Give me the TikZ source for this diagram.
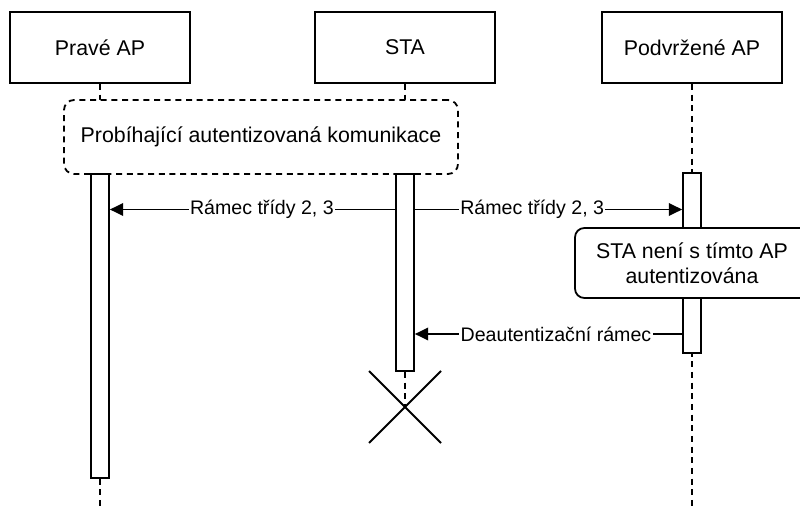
\documentclass[tikz,border=0pt]{standalone}
\usepackage{fontspec}
\setmainfont{Liberation Sans}
\usetikzlibrary{arrows.meta}
\begin{document}
\begin{tikzpicture}[x=0.75pt,y=-0.75pt,
  lw/.style={line width=1.35pt},
  dsh/.style={lw,dash pattern=on 4.5pt off 3.5pt},
  head/.style={draw,lw,fill=white,minimum width=135pt,minimum height=53.25pt,inner sep=0pt,font=\fontsize{16}{19}\selectfont},
  bar/.style={draw,lw,fill=white,minimum width=13.5pt,inner sep=0pt},
  msg/.style={lw,-{Triangle[length=10pt,width=9.5pt]}},
  lbl/.style={fill=white,inner sep=1pt,font=\fontsize{14.7}{17}\selectfont},
  notebox/.style={draw,lw,fill=white,rounded corners=7pt,minimum width=175.5pt,minimum height=52.5pt,align=center,inner sep=0pt,font=\fontsize{16}{19}\selectfont}]
\useasboundingbox (0,0) rectangle (800,506);
\clip (0,0) rectangle (800,506);
\fill[white] (0,0) rectangle (800,506);
% heads
\node[head] (pa) at (100,47.5) {Pravé AP};
\node[head] (sta) at (405,47.5) {STA};
\node[head] (pod) at (692,47.5) {Podvržené AP};
% lifelines
\coordinate (paend) at (100,506);
\coordinate (podend) at (692,506);
\coordinate (xc) at (405,407);
\draw[dsh] (pa.south) -- (paend);
\draw[dsh] (sta.south) -- (xc);
\draw[dsh] (pod.south) -- (podend);
% combined fragment
\node[draw,dsh,fill=white,rounded corners=7.5pt,minimum width=295.5pt,minimum height=55.5pt,inner sep=0pt,font=\fontsize{16}{19}\selectfont] (frag) at (261,137) {Probíhající autentizovaná komunikace};
% activation bars
\node[bar,minimum height=228pt] (pb) at (100,326) {};
\node[bar,minimum height=147.75pt] (sb) at (405,272.5) {};
\node[bar,minimum height=135pt] (db) at (692,263) {};
% messages
\coordinate (y1) at (0,209.5);
\coordinate (y3) at (0,334);
\draw[msg] (sb.west |- y1) -- node[lbl,pos=0.467] {Rámec třídy 2, 3} (pb.east |- y1);
\draw[msg] (sb.east |- y1) -- node[lbl,pos=0.439] {Rámec třídy 2, 3} (db.west |- y1);
% note
\node[notebox] (note) at (692,263) {STA není s tímto AP\\autentizována};
\draw[msg] (db.west |- y3) -- node[lbl,pos=0.472] {Deautentizační rámec} (sb.east |- y3);
% destruction
\coordinate (x1) at (369,371);
\coordinate (x2) at (441,443);
\coordinate (x3) at (441,371);
\coordinate (x4) at (369,443);
\draw[lw] (x1) -- (x2);
\draw[lw] (x3) -- (x4);
\end{tikzpicture}
\end{document}
